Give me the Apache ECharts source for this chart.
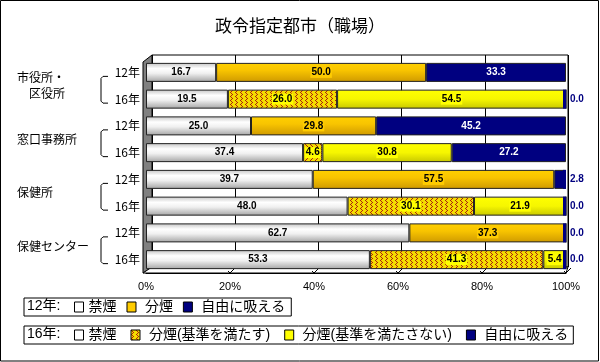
<!DOCTYPE html>
<html><head><meta charset="utf-8">
<script src="https://cdn.jsdelivr.net/npm/echarts@6/dist/echarts.min.js"></script>
<style>html,body{margin:0;padding:0;background:#fff}#c{width:600px;height:362px}</style>
</head><body><div id="c"></div>
<script>
// ---- data ----
const groups = ['市役所・区役所', '窓口事務所', '保健所', '保健センター'];
const groupLabels = ['市役所・\n　区役所', '窓口事務所', '保健所', '保健センター'];
const years = ['12年', '16年'];
const categories = groups.flatMap(g => years.map(y => g + '|' + y));
const kinen     = [16.7, 19.5, 25.0, 37.4, 39.7, 48.0, 62.7, 53.3];   // 禁煙
const bunen12   = [50.0, null, 29.8, null, 57.5, null, 37.3, null];   // 分煙 (12年)
const bunenOk16 = [null, 26.0, null, 4.6, null, 30.1, null, 41.3];    // 分煙(基準を満たす)
const bunenNg16 = [null, 54.5, null, 30.8, null, 21.9, null, 5.4];    // 分煙(基準を満たさない)
const jiyu      = [33.3, 0.0, 45.2, 27.2, 2.8, 0.0, 0.0, 0.0];        // 自由に吸える
const xTickLabels = ['0%', '20%', '40%', '60%', '80%', '100%'];
const legend12 = ['禁煙', '分煙', '自由に吸える'];
const legend16 = ['禁煙', '分煙(基準を満たす)', '分煙(基準を満たさない)', '自由に吸える'];

// ---- layout ----
const FL = 146, FR = 566, FT = 59, FB = 273;   // front plane
const BL = 152, BR = 568, BT = 55, BB = 267;   // back wall
const CJK = "'Noto Sans CJK JP','Liberation Sans',sans-serif";
const LEG = "'Liberation Sans','Noto Sans CJK JP',sans-serif";
const NUM = "'Liberation Sans','DejaVu Sans',sans-serif";

function vgrad(stops) {
  return new echarts.graphic.LinearGradient(0, 0, 0, 1, stops.map(c => ({ offset: c[0], color: c[1] })));
}
function hatch() {
  const c = document.createElement('canvas');
  c.width = 5; c.height = 4;
  const g = c.getContext('2d');
  g.fillStyle = '#f4dc00'; g.fillRect(0, 0, 5, 4);
  g.fillStyle = '#a82010';
  [[0,0],[1,1],[2,2],[1,3]].forEach(p => g.fillRect(p[0], p[1], 1, 1));
  return { image: c, repeat: 'repeat' };
}
const cWhite = vgrad([[0, '#c4c4c4'], [0.3, '#ffffff'], [0.55, '#f0f0f0'], [1, '#a4a4a4']]);
const cGold = vgrad([[0, '#ffd000'], [0.4, '#f8c400'], [1, '#cf9a00']]);
const cYellow = vgrad([[0, '#ffff00'], [0.5, '#f6f600'], [1, '#c8c800']]);
const cNavy = '#000080';
const cHatch = hatch();

const totals = kinen.map((v, i) => v + (bunen12[i] || 0) + (bunenOk16[i] || 0) + (bunenNg16[i] || 0) + jiyu[i]);
const fmt1 = v => Number(v).toFixed(1);

const baseLabel = {
  show: true, position: 'inside', fontSize: 10, fontWeight: 'bold', fontFamily: NUM, color: '#000',
  formatter: p => (p.value == null ? '' : fmt1(p.value))
};
const border = { borderColor: '#222', borderWidth: 1 };
const BW = 19;

const chart = echarts.init(document.getElementById('c'), null, { renderer: 'canvas' });
const option = {
  animation: false,
  backgroundColor: '#fff',
  textStyle: { fontFamily: CJK },
  title: {
    text: '政令指定都市（職場）', left: 'center', top: 12,
    textStyle: { fontSize: 17, fontWeight: 'normal', color: '#000', fontFamily: CJK }
  },
  grid: [
    { left: FL, top: FT, width: FR - FL, height: FB - FT, containLabel: false },
    { left: BL, top: BT, width: BR - BL, height: BB - BT, show: true, borderColor: '#000', borderWidth: 1, backgroundColor: '#fff', z: -1 }
  ],
  xAxis: [
    { gridIndex: 0, type: 'value', min: 0, max: 100, interval: 20,
      axisLine: { show: true, lineStyle: { color: '#000', width: 1 } }, axisTick: { show: false },
      splitLine: { show: false },
      axisLabel: { fontSize: 11, color: '#000', margin: 8, fontFamily: NUM, formatter: (v) => xTickLabels[Math.round(v / 20)] } },
    { gridIndex: 1, type: 'value', min: 0, max: 100, interval: 20,
      axisLine: { show: false }, axisTick: { show: false }, axisLabel: { show: false },
      splitLine: { show: true, lineStyle: { color: '#000', width: 1 } } }
  ],
  yAxis: [
    { gridIndex: 0, type: 'category', data: categories, inverse: true, position: 'left',
      axisLine: { show: false }, axisTick: { show: false },
      axisLabel: { fontSize: 12, color: '#000', margin: 6, padding: [8, 0, 0, 0], fontFamily: CJK,
        formatter: v => v.split('|')[1] } },
    { gridIndex: 0, type: 'category', data: groupLabels, inverse: true, position: 'left',
      axisLine: { show: false }, axisTick: { show: false },
      axisLabel: { fontSize: 12, color: '#000', margin: FL - 17, align: 'left', lineHeight: 16,
        padding: [6, 0, 0, 0], fontFamily: CJK } },
    { gridIndex: 1, type: 'category', data: categories, show: false }
  ],
  legend: [
    { left: 24, top: 298, orient: 'horizontal', selectedMode: false,
      borderColor: '#000', borderWidth: 1, borderRadius: 0, padding: [2, 6, 2, 50],
      itemGap: 10, itemWidth: 9, itemHeight: 10,
      textStyle: { fontSize: 14, color: '#000', lineHeight: 14, fontFamily: LEG },
      formatter: n => (n === '禁煙' ? n : ' ' + n),
      data: [
        { name: legend12[0], icon: 'rect', itemStyle: { color: '#fff', borderColor: '#000', borderWidth: 1 } },
        { name: legend12[1], icon: 'rect', itemStyle: { color: '#ffcc00', borderColor: '#000', borderWidth: 1 } },
        { name: legend12[2], icon: 'rect', itemStyle: { color: cNavy, borderColor: '#000', borderWidth: 1 } }
      ] },
    { left: 24, top: 326, orient: 'horizontal', selectedMode: false,
      borderColor: '#000', borderWidth: 1, borderRadius: 0, padding: [2, 5, 2, 50],
      itemGap: 14, itemWidth: 9, itemHeight: 10,
      textStyle: { fontSize: 14, color: '#000', lineHeight: 14, fontFamily: LEG },
      formatter: n => (n === '禁煙' ? n : ' ' + n),
      data: [
        { name: legend16[0], icon: 'rect', itemStyle: { color: '#fff', borderColor: '#000', borderWidth: 1 } },
        { name: legend16[1], icon: 'rect', itemStyle: { color: cHatch, borderColor: '#000', borderWidth: 1 } },
        { name: legend16[2], icon: 'rect', itemStyle: { color: '#ffff00', borderColor: '#000', borderWidth: 1 } },
        { name: legend16[3], icon: 'rect', itemStyle: { color: cNavy, borderColor: '#000', borderWidth: 1 } }
      ] }
  ],
  series: [
    { name: '禁煙', type: 'bar', stack: 't', barWidth: BW, data: kinen,
      itemStyle: Object.assign({ color: cWhite }, border), label: baseLabel, z: 3 },
    { name: legend12[1], type: 'bar', stack: 't', barWidth: BW, data: bunen12,
      itemStyle: Object.assign({ color: cGold }, border),
      label: Object.assign({}, baseLabel, { backgroundColor: '#ffcc00', padding: [1, 1, 0, 1] }), z: 3 },
    { name: legend16[1], type: 'bar', stack: 't', barWidth: BW, data: bunenOk16,
      itemStyle: Object.assign({ color: cHatch }, border),
      label: Object.assign({}, baseLabel, { backgroundColor: '#ffff00', padding: [1, 1, 0, 1] }), z: 3 },
    { name: legend16[2], type: 'bar', stack: 't', barWidth: BW, data: bunenNg16,
      itemStyle: Object.assign({ color: cYellow }, border),
      label: Object.assign({}, baseLabel, { backgroundColor: '#ffff00', padding: [1, 1, 0, 1] }), z: 3 },
    { name: '自由に吸える', type: 'bar', stack: 't', barWidth: BW,
      data: jiyu.map(v => (v < 5 ? { value: v, label: { show: false } } : v)),
      itemStyle: Object.assign({ color: cNavy }, border),
      label: Object.assign({}, baseLabel, { color: '#fff' }), z: 3 },
    // end caps + outside labels for small 自由に吸える values
    { name: '自由に吸える', type: 'scatter', xAxisIndex: 0, yAxisIndex: 0,
      symbol: 'rect', symbolSize: [3, BW], symbolOffset: [-1.5, 0],
      itemStyle: { color: cNavy, opacity: 1 },
      data: jiyu.map((v, i) => (v < 5 ? { value: [totals[i], categories[i]], jv: v } : null)).filter(d => d),
      label: { show: true, position: 'right', distance: 4, color: cNavy, fontSize: 10, fontWeight: 'bold', fontFamily: NUM,
        formatter: p => fmt1(p.data.jv) },
      z: 4, silent: true }
  ]
};
chart.setOption(option);

// ---- decorations (3D frame, brackets, legend prefixes, outer border) ----
const g = [];
g.push({ type: 'rect', shape: { x: 0.5, y: 0.5, width: 598, height: 360.5 }, style: { fill: null, stroke: '#000', lineWidth: 1 }, z: 10, silent: true });
g.push({ type: 'polygon', shape: { points: [[FL - 3, FT + 3], [BL, BT], [BL, BB], [FL - 3, FB]] }, style: { fill: '#808080', stroke: '#000', lineWidth: 1 }, z: 1, silent: true });
g.push({ type: 'polygon', shape: { points: [[FL - 3, FB], [BL, BB], [BR, BB], [FR, FB]] }, style: { fill: '#fff', stroke: '#000', lineWidth: 1 }, z: 1, silent: true });
for (let k = 1; k <= 5; k++) {
  const x = chart.convertToPixel({ xAxisIndex: 0 }, k * 20);
  g.push({ type: 'polyline', shape: { points: [[x - 2, FB - 2], [x, FB], [x + 5, FB - 5]] }, style: { stroke: '#000', lineWidth: 1, fill: null }, z: 2, silent: true });
}
for (let i = 0; i < groups.length; i++) {
  const y1 = chart.convertToPixel({ yAxisIndex: 0 }, categories[i * 2]) + 4;
  const y2 = chart.convertToPixel({ yAxisIndex: 0 }, categories[i * 2 + 1]) + 4;
  g.push({ type: 'polyline', shape: { points: [[108, y1], [103, y1], [101, y1 + 2], [101, y2 - 2], [103, y2], [108, y2]] },
    style: { stroke: '#000', lineWidth: 1, fill: null }, z: 5, silent: true });
}
g.push({ type: 'text', left: 27, top: 299, style: { text: '12年:', fontSize: 14, fontFamily: LEG, fill: '#000' }, z: 5 });
g.push({ type: 'text', left: 27, top: 327, style: { text: '16年:', fontSize: 14, fontFamily: LEG, fill: '#000' }, z: 5 });
chart.setOption({ graphic: g });
</script></body></html>
